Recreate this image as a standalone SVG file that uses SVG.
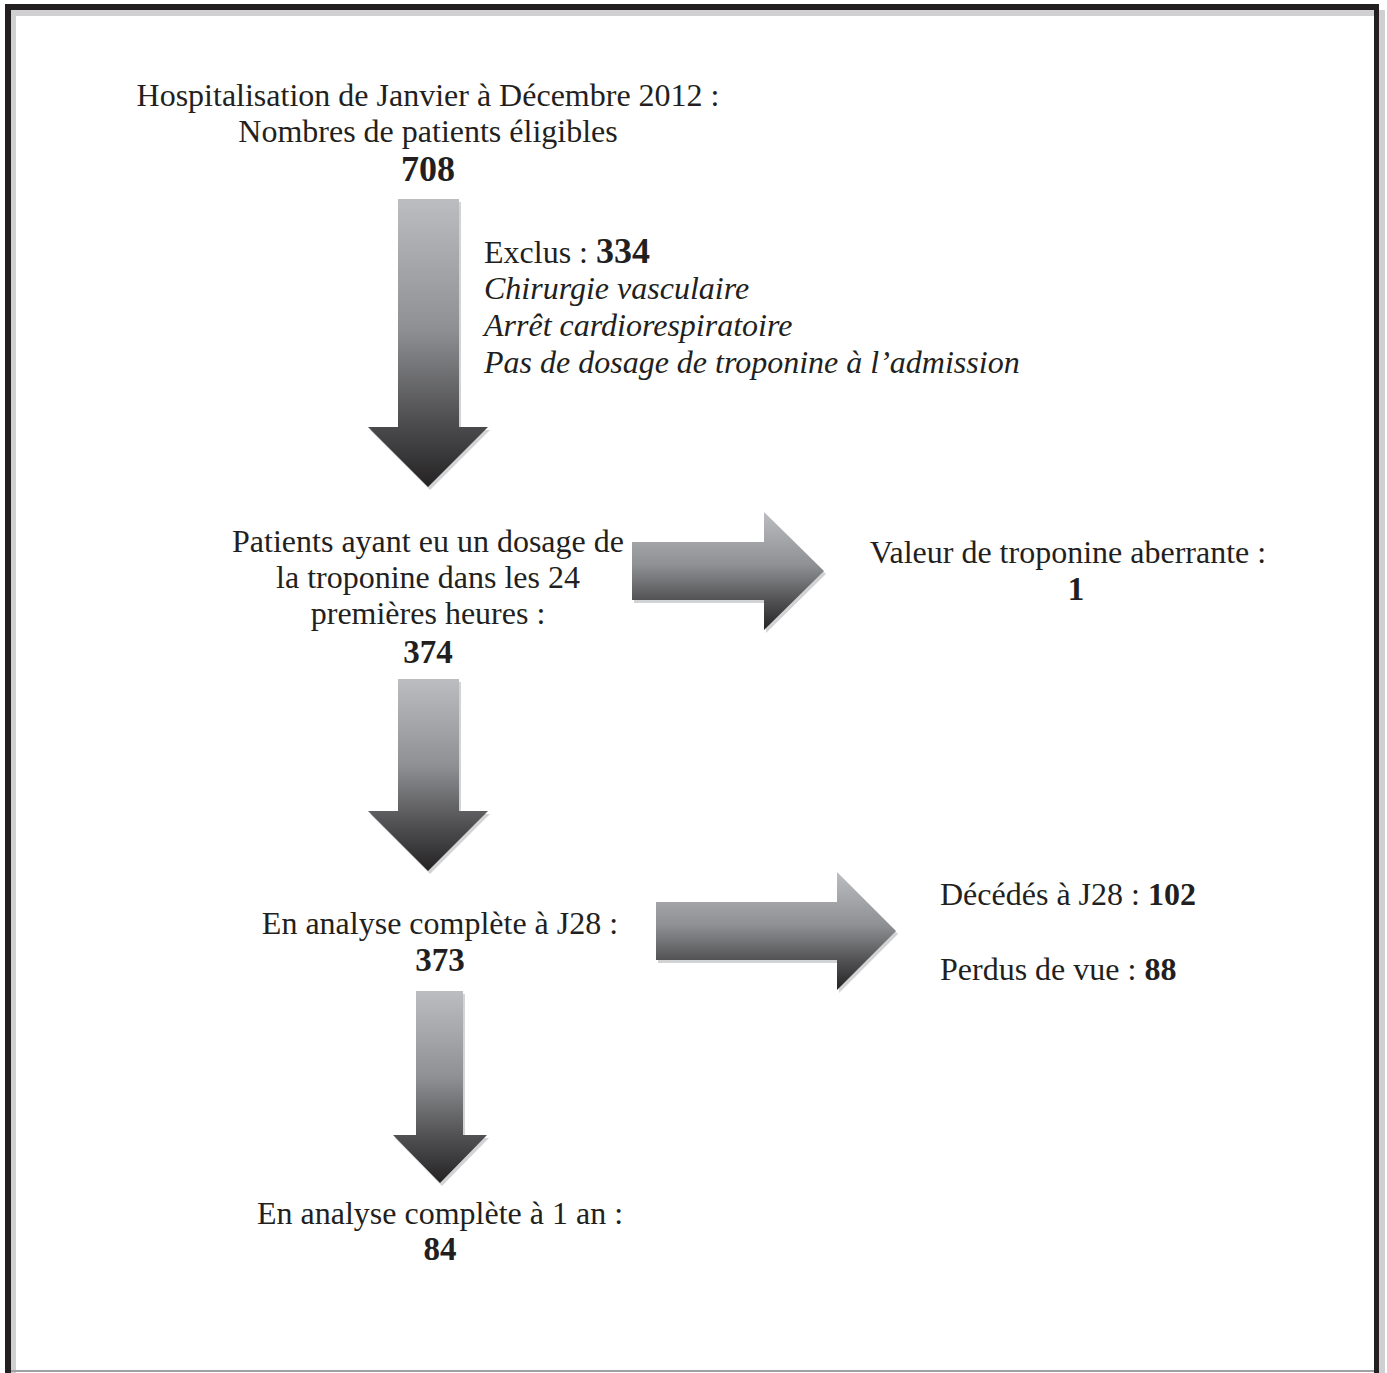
<svg xmlns="http://www.w3.org/2000/svg" width="1387" height="1373" viewBox="0 0 1387 1373">
<style>
text{font-family:"Liberation Serif","Times New Roman",serif;font-size:32px;fill:#231f20}
.c{text-anchor:middle}
.b{font-weight:bold}
.i{font-style:italic}
.n{font-size:33px}
.big{font-size:36px}
.sh{fill:#d2d3d5}
.ar{fill:url(#g)}
</style>
<defs>
<linearGradient id="g" x1="0" y1="0" x2="0" y2="1">
<stop offset="0" stop-color="#bcbdc0"/>
<stop offset="0.45" stop-color="#8f9093"/>
<stop offset="0.78" stop-color="#4c4c4e"/>
<stop offset="1" stop-color="#252324"/>
</linearGradient>
</defs>
<rect width="1387" height="1373" fill="#fff"/>
<g id="frame">
<rect x="1379" y="10" width="6" height="1363" fill="#d0d0d2"/>
<rect x="11" y="10" width="1363" height="6" fill="#d0d0d2"/>
<rect x="11" y="10" width="5" height="1363" fill="#d0d0d2"/>
<rect x="5" y="4" width="1374" height="6" fill="#231f20"/>
<rect x="5" y="4" width="6" height="1369" fill="#231f20"/>
<rect x="1374" y="4" width="5" height="1369" fill="#231f20"/>
<rect x="11" y="1370" width="1363" height="2" fill="#a0a0a2"/>
</g>
<g id="connectors">
<g id="arrow1">
<polygon class="sh" transform="translate(2,3)" points="398,199 459,199 459,427 488,427 428,487 368,427 398,427"/>
<polygon class="ar" points="398,199 459,199 459,427 488,427 428,487 368,427 398,427"/>
</g>
<g id="arrow2">
<polygon class="sh" transform="translate(2,3)" points="398,679 459,679 459,811 488,811 428,871 368,811 398,811"/>
<polygon class="ar" points="398,679 459,679 459,811 488,811 428,871 368,811 398,811"/>
</g>
<g id="arrow3">
<polygon class="sh" transform="translate(2,3)" points="416,991 463,991 463,1135 487,1135 440,1183 393,1135 416,1135"/>
<polygon class="ar" points="416,991 463,991 463,1135 487,1135 440,1183 393,1135 416,1135"/>
</g>
<g id="arrow4">
<polygon class="sh" transform="translate(2,3)" points="632,542 764,542 764,512 824,571 764,630 764,600 632,600"/>
<polygon class="ar" points="632,542 764,542 764,512 824,571 764,630 764,600 632,600"/>
</g>
<g id="arrow5">
<polygon class="sh" transform="translate(2,3)" points="656,902 837,902 837,872 896,931 837,990 837,960 656,960"/>
<polygon class="ar" points="656,902 837,902 837,872 896,931 837,990 837,960 656,960"/>
</g>
</g>
<g id="node-eligibles">
<text class="c" x="428" y="106">Hospitalisation de Janvier à Décembre 2012 :</text>
<text class="c" x="428" y="142">Nombres de patients éligibles</text>
<text class="c b big" x="428" y="181">708</text>
</g>
<g id="node-exclus">
<text x="484" y="263">Exclus : <tspan class="b big">334</tspan></text>
<text class="i" x="484" y="299">Chirurgie vasculaire</text>
<text class="i" x="484" y="336">Arrêt cardiorespiratoire</text>
<text class="i" x="484" y="373">Pas de dosage de troponine à l’admission</text>
</g>
<g id="node-dosage">
<text class="c" x="428" y="552">Patients ayant eu un dosage de</text>
<text class="c" x="428" y="588">la troponine dans les 24</text>
<text class="c" x="428" y="624">premières heures :</text>
<text class="c b n" x="428" y="663">374</text>
</g>
<g id="node-aberrante">
<text class="c" x="1068" y="563">Valeur de troponine aberrante :</text>
<text class="c b n" x="1076" y="600">1</text>
</g>
<g id="node-j28">
<text class="c" x="440" y="934">En analyse complète à J28 :</text>
<text class="c b n" x="440" y="971">373</text>
</g>
<g id="node-decedes">
<text x="940" y="905">Décédés à J28 : <tspan class="b">102</tspan></text>
<text x="940" y="980">Perdus de vue : <tspan class="b">88</tspan></text>
</g>
<g id="node-1an">
<text class="c" x="440" y="1224">En analyse complète à 1 an :</text>
<text class="c b n" x="440" y="1260">84</text>
</g>
</svg>
